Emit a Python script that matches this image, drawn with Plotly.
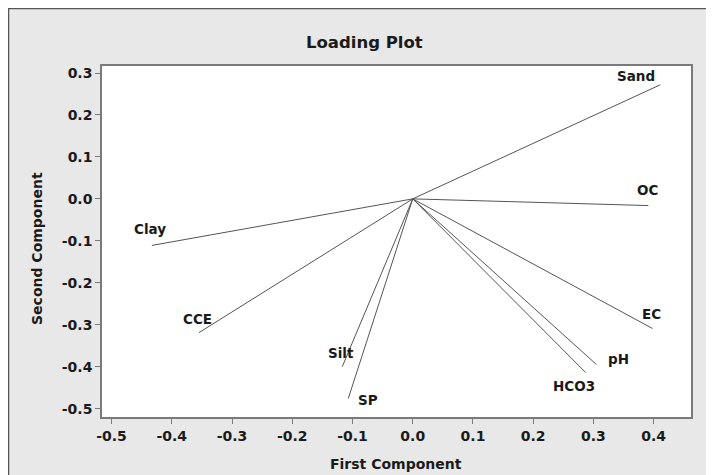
import plotly.graph_objects as go

# Loadings (first component, second component)
variables = ["Sand", "OC", "EC", "pH", "HCO3", "SP", "Silt", "CCE", "Clay"]
first_comp = [0.411, 0.391, 0.398, 0.305, 0.287, -0.107, -0.117, -0.355, -0.433]
second_comp = [0.272, -0.016, -0.309, -0.395, -0.414, -0.476, -0.400, -0.319, -0.111]

x_ticks = [-0.5, -0.4, -0.3, -0.2, -0.1, 0.0, 0.1, 0.2, 0.3, 0.4]
y_ticks = [-0.5, -0.4, -0.3, -0.2, -0.1, 0.0, 0.1, 0.2, 0.3]

# label offsets in pixels (style)
label_shift = {
    "Sand": (-24, 9), "OC": (-1, 16), "EC": (-1, 14), "pH": (22, 6),
    "HCO3": (-12, -13), "SP": (20, -1), "Silt": (-1, 14), "CCE": (-1, 14),
    "Clay": (-2, 16),
}

OFF = 8  # page body margin
W, H = 714, 475
L, R, T, B = 94, 31, 58, 66
pw, ph = W - L - R, H - T - B

def px_to_paper(px, py):
    # px, py: page pixel coordinates
    return (px - OFF - L) / pw, (H - B - (py - OFF)) / ph

FONT = "DejaVu Sans"

fig = go.Figure()
for name, xv, yv in zip(variables, first_comp, second_comp):
    fig.add_trace(go.Scatter(
        x=[0, xv], y=[0, yv], mode="lines",
        line=dict(color="#555555", width=1), hoverinfo="skip", showlegend=False))

annotations = []
for name, xv, yv in zip(variables, first_comp, second_comp):
    dx, dy = label_shift[name]
    annotations.append(dict(
        x=xv, y=yv, xref="x", yref="y", text=name, showarrow=False,
        xshift=dx, yshift=dy, xanchor="center", yanchor="middle",
        font=dict(family=FONT, size=13.5, color="#1a1a1a", weight="bold")))

tx, ty = px_to_paper(364, 42)
annotations.append(dict(x=tx, y=ty, xref="paper", yref="paper", text="Loading Plot",
                        showarrow=False, xanchor="center", yanchor="middle",
                        font=dict(family=FONT, size=16.5, color="#1a1a1a", weight="bold")))
ax_x, ax_y = px_to_paper(396, 464)
annotations.append(dict(x=ax_x, y=ax_y, xref="paper", yref="paper", text="First Component",
                        showarrow=False, xanchor="center", yanchor="middle",
                        font=dict(family=FONT, size=14, color="#1a1a1a", weight="bold")))
ay_x, ay_y = px_to_paper(37, 249)
annotations.append(dict(x=ay_x, y=ay_y, xref="paper", yref="paper", text="Second Component",
                        showarrow=False, xanchor="center", yanchor="middle", textangle=-90,
                        font=dict(family=FONT, size=14, color="#1a1a1a", weight="bold")))

# dark border along the figure's left and top edges
bx0, by1 = -L / pw + 0.5 / pw, 1 + T / ph - 0.5 / ph
shapes = [
    dict(type="rect", xref="paper", yref="paper", x0=bx0, x1=1 + (R + 20) / pw,
         y0=-(B + 20) / ph, y1=by1, line=dict(color="#555555", width=1.5), layer="above"),
]

axis_common = dict(
    showgrid=False, zeroline=False, showline=True, mirror=True,
    linecolor="#7a7a7a", linewidth=1.5, ticks="outside", ticklen=5,
    tickcolor="#7a7a7a", tickwidth=1,
    tickfont=dict(family=FONT, size=14, color="#1a1a1a", weight="bold"),
)

fig.update_layout(
    width=W, height=H,
    margin=dict(l=L, r=R, t=T, b=B),
    paper_bgcolor="#e8e8e8", plot_bgcolor="white",
    xaxis=dict(range=[-0.5158, 0.4619], tickvals=x_ticks,
               ticktext=[f"{v:.1f}" for v in x_ticks], **axis_common),
    yaxis=dict(range=[-0.520, 0.3167], tickvals=y_ticks,
               ticktext=[f"{v:.1f}" for v in y_ticks], **axis_common),
    annotations=annotations, shapes=shapes, showlegend=False,
)

fig.write_html("out.html")
